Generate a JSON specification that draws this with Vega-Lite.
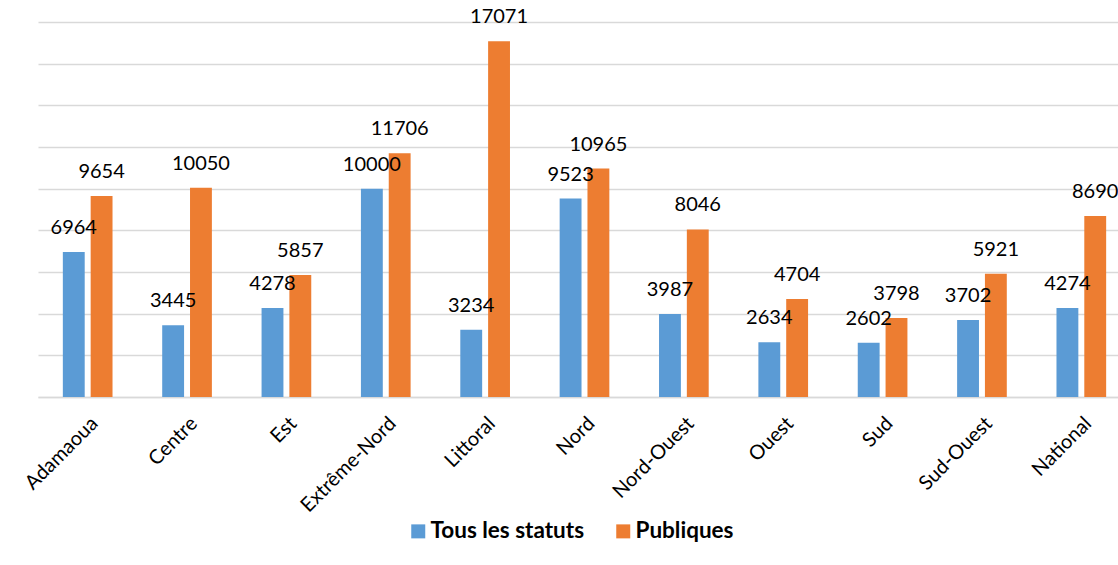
{
  "$schema": "https://vega.github.io/schema/vega-lite/v6.json",
  "width": 1080,
  "height": 375,
  "autosize": {"type": "none"},
  "padding": {"left": 38, "top": 22, "right": 0, "bottom": 168},
  "background": "white",
  "config": {"view": {"stroke": null}, "font": "Lato"},
  "data": {"values": [
    {"region": "Adamaoua", "statut": "Tous les statuts", "value": 6964},
    {"region": "Adamaoua", "statut": "Publiques", "value": 9654},
    {"region": "Centre", "statut": "Tous les statuts", "value": 3445},
    {"region": "Centre", "statut": "Publiques", "value": 10050},
    {"region": "Est", "statut": "Tous les statuts", "value": 4278},
    {"region": "Est", "statut": "Publiques", "value": 5857},
    {"region": "Extrême-Nord", "statut": "Tous les statuts", "value": 10000},
    {"region": "Extrême-Nord", "statut": "Publiques", "value": 11706},
    {"region": "Littoral", "statut": "Tous les statuts", "value": 3234},
    {"region": "Littoral", "statut": "Publiques", "value": 17071},
    {"region": "Nord", "statut": "Tous les statuts", "value": 9523},
    {"region": "Nord", "statut": "Publiques", "value": 10965},
    {"region": "Nord-Ouest", "statut": "Tous les statuts", "value": 3987},
    {"region": "Nord-Ouest", "statut": "Publiques", "value": 8046},
    {"region": "Ouest", "statut": "Tous les statuts", "value": 2634},
    {"region": "Ouest", "statut": "Publiques", "value": 4704},
    {"region": "Sud", "statut": "Tous les statuts", "value": 2602},
    {"region": "Sud", "statut": "Publiques", "value": 3798},
    {"region": "Sud-Ouest", "statut": "Tous les statuts", "value": 3702},
    {"region": "Sud-Ouest", "statut": "Publiques", "value": 5921},
    {"region": "National", "statut": "Tous les statuts", "value": 4274},
    {"region": "National", "statut": "Publiques", "value": 8690}
  ]},
  "encoding": {
    "x": {
      "field": "region", "type": "nominal", "sort": null, "title": null,
      "scale": {"range": [0, 1093], "paddingInner": 0.5, "paddingOuter": 0.25},
      "axis": {"labelAngle": -45, "labelFontSize": 20, "labelColor": "#000000", "ticks": false, "domainColor": "#D9D9D9", "domainWidth": 1.5, "labelPadding": 16}
    },
    "xOffset": {
      "field": "statut", "type": "nominal", "sort": ["Tous les statuts", "Publiques"],
      "scale": {"paddingInner": 0.214, "paddingOuter": 0}
    },
    "y": {
      "field": "value", "type": "quantitative", "title": null,
      "scale": {"domain": [0, 18000]},
      "axis": {"values": [0, 2000, 4000, 6000, 8000, 10000, 12000, 14000, 16000, 18000], "labels": false, "ticks": false, "domain": false, "gridColor": "#D9D9D9", "gridWidth": 1.5}
    }
  },
  "layer": [
    {
      "mark": {"type": "bar"},
      "encoding": {
        "color": {
          "field": "statut", "type": "nominal", "sort": ["Tous les statuts", "Publiques"],
          "scale": {"domain": ["Tous les statuts", "Publiques"], "range": ["#5B9BD5", "#ED7D31"]},
          "legend": {"title": null, "orient": "none", "legendX": 369, "legendY": 498, "direction": "horizontal", "symbolType": "square", "symbolSize": 196, "symbolStrokeWidth": 0, "labelFontSize": 22.5, "labelFontWeight": "bold", "labelColor": "#000000", "labelOffset": 1, "columnPadding": 27}
        }
      }
    },
    {
      "mark": {"type": "text", "baseline": "alphabetic", "align": "center", "dy": -18, "fontSize": 20, "color": "#000000"},
      "encoding": {"text": {"field": "value", "type": "quantitative", "format": "d"}}
    }
  ]
}
